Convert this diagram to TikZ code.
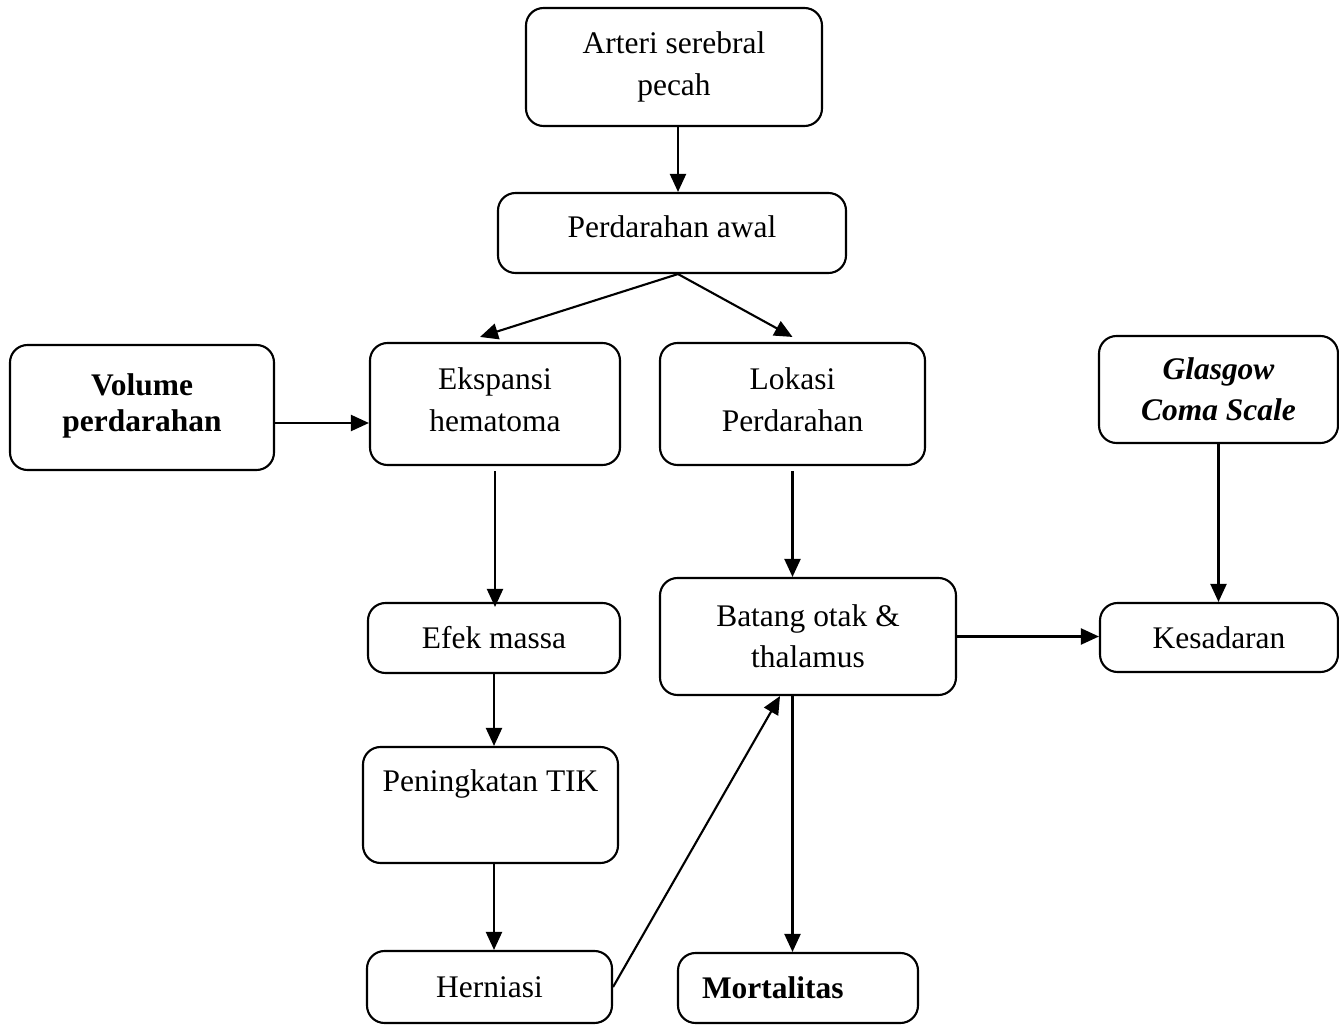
\documentclass[tikz,border=0pt]{standalone}
\usepackage{fontspec}
\setmainfont{Liberation Serif}
\usetikzlibrary{arrows.meta, positioning}

\tikzset{
  box/.style={draw, line width=1.2pt, rounded corners=0.35cm, align=center, inner sep=0pt,
    font=\fontsize{17.9}{23.5}\selectfont},
  boldbox/.style={box, font=\fontsize{17.9}{20.5}\selectfont\bfseries},
  arr/.style={line width=1.2pt, -{Triangle[length=0.36cm, width=0.32cm]}}
}
\newcommand{\lift}[1]{\rule[-#1]{0pt}{0pt}}

\begin{document}
\begin{tikzpicture}
            \useasboundingbox (0,0) rectangle (26.78,-20.5);

            % Top chain
            \node[box, minimum width=5.92cm, minimum height=2.36cm] (arteri) at (13.48,-1.34) {Arteri serebral\\pecah};
            \node[box, minimum width=6.96cm, minimum height=1.6cm] (awal) at (13.44,-4.66) {Perdarahan awal\lift{0.24cm}};

            % Middle row
            \node[boldbox, minimum width=5.28cm, minimum height=2.5cm] (volume) at (2.84,-8.15) {Volume\\perdarahan\lift{0.18cm}};
            \node[box, minimum width=5.0cm, minimum height=2.44cm] (ekspansi) at (9.9,-8.08) {Ekspansi\\hematoma\lift{0.18cm}};
            \node[box, minimum width=5.3cm, minimum height=2.44cm] (lokasi) at (15.85,-8.08) {Lokasi\\Perdarahan\lift{0.18cm}};
            \node[boldbox, font=\fontsize{17.9}{23.5}\selectfont\bfseries\itshape, minimum width=4.78cm, minimum height=2.14cm] (glasgow) at (24.37,-7.79) {Glasgow\\Coma Scale};

            % Lower rows
            \node[box, minimum width=5.04cm, minimum height=1.4cm] (efek) at (9.88,-12.76) {Efek massa};
            \node[box, minimum width=5.92cm, minimum height=2.34cm] (batang) at (16.16,-12.73) {Batang otak \&\\thalamus};
            \node[box, minimum width=4.76cm, minimum height=1.38cm] (kesadaran) at (24.38,-12.75) {Kesadaran};
            \node[box, minimum width=5.1cm, minimum height=2.32cm] (tik) at (9.81,-16.1) {Peningkatan TIK\\[-0.08cm]\strut};
            \node[box, minimum width=4.9cm, minimum height=1.44cm] (herniasi) at (9.79,-19.74) {Herniasi};
            \node[boldbox, align=left, text width=3.84cm, inner xsep=0.48cm, minimum height=1.4cm] (mortalitas) at (15.96,-19.76) {Mortalitas};

            % Arrows
            \draw[arr] ([xshift=0.08cm]arteri.south) -- ([xshift=0.08cm]arteri.south |- awal.north);
            \draw[arr] ([xshift=0.12cm]awal.south) -- ([xshift=-0.3cm,yshift=0.1cm]ekspansi.north);
            \draw[arr] ([xshift=0.12cm]awal.south) -- ([yshift=0.1cm]lokasi.north);
            \draw[arr] ([yshift=-0.31cm]volume.east) -- ([yshift=-0.31cm]volume.east -| ekspansi.west);
            \draw[arr] ([yshift=-0.1cm]ekspansi.south) -- ([yshift=-0.1cm]ekspansi.south |- efek.north);
            \draw[arr] ([yshift=-0.1cm]lokasi.south) -- (lokasi.south |- batang.north);
            \draw[arr] (glasgow.south) -- (glasgow.south |- kesadaran.north);
            \draw[arr] (batang.east) -- (batang.east -| kesadaran.west);
            \draw[arr] (efek.south) -- (efek.south |- tik.north);
            \draw[arr] (efek.south |- tik.south) -- (efek.south |- herniasi.north);
            \draw[arr] (herniasi.east) -- ([xshift=-0.56cm]batang.south);
            \draw[arr] (lokasi.south |- batang.south) -- (lokasi.south |- mortalitas.north);
        \end{tikzpicture}
\end{document}
